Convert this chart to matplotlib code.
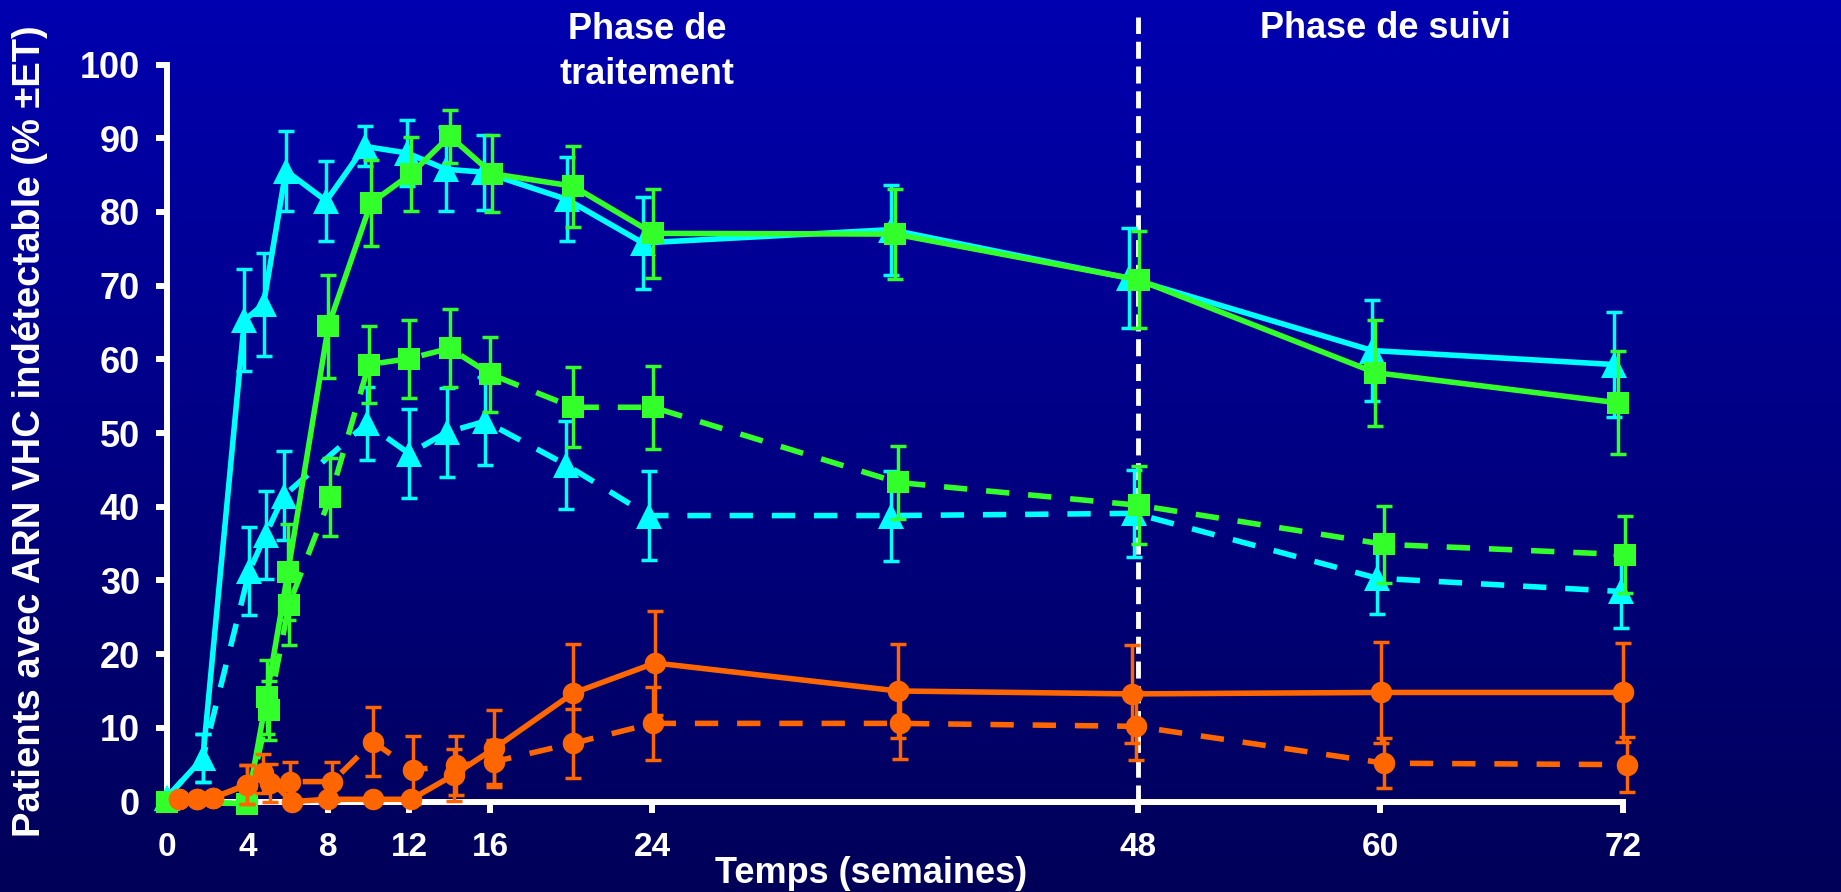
import numpy as np
import matplotlib
matplotlib.use('Agg')
import matplotlib.pyplot as plt

plt.rcParams['font.family'] = ['Liberation Sans', 'DejaVu Sans']
plt.rcParams['font.weight'] = 'bold'

# Data (weeks, % undetectable, +/- SE)
cyan_solid_wk = [0, 1.8, 3.85, 4.8, 5.9, 7.9, 9.8, 11.9, 13.8, 15.7, 19.8, 23.55, 35.8, 47.6, 59.6, 71.55]
cyan_solid_y = [0.5, 5.9, 65.3, 67.5, 85.6, 81.5, 88.9, 88.0, 85.8, 85.4, 81.7, 75.8, 77.6, 71.0, 61.2, 59.3]
cyan_solid_e = [0, 3.2, 6.9, 7.0, 5.4, 5.4, 2.7, 4.5, 5.7, 5.1, 5.7, 6.3, 6.1, 6.8, 6.9, 7.1]

green_solid_wk = [0, 4, 4.95, 6.0, 8.0, 10.1, 12.1, 14.0, 16.1, 20.1, 24.05, 36.0, 48.05, 59.75, 71.75]
green_solid_y = [0, -0.3, 14.2, 31.1, 64.5, 81.2, 85.2, 90.3, 85.2, 83.5, 77.1, 77.0, 70.8, 58.2, 54.1]
green_solid_e = [0, 0, 5.0, 6.5, 7.0, 5.8, 5.0, 3.6, 5.2, 5.5, 6.0, 6.1, 6.6, 7.2, 7.0]

green_dash_wk = [0, 4, 5.05, 6.05, 8.1, 10.0, 12.0, 14.0, 16.0, 20.1, 24.05, 36.15, 48.05, 60.2, 72.1]
green_dash_y = [0, -0.3, 12.4, 26.7, 41.3, 59.3, 60.1, 61.5, 58.0, 53.5, 53.5, 43.3, 40.2, 34.9, 33.5]
green_dash_e = [0, 0, 4.0, 5.5, 5.3, 5.2, 5.3, 5.3, 5.1, 5.4, 5.6, 5.0, 5.3, 5.2, 5.2]

cyan_dash_wk = [0, 1.8, 4.1, 4.9, 5.8, 9.9, 12.0, 13.85, 15.75, 19.75, 23.85, 35.8, 47.85, 59.85, 71.9]
cyan_dash_y = [0.5, 5.9, 31.3, 36.2, 41.5, 51.3, 47.2, 50.1, 51.6, 45.7, 38.8, 38.8, 39.1, 30.3, 28.5]
cyan_dash_e = [0, 3.2, 6.0, 6.0, 6.0, 5.0, 6.0, 6.0, 6.0, 6.0, 6.0, 6.1, 5.9, 4.9, 4.9]

orange_solid_wk = [0.6, 1.5, 2.3, 4.0, 4.75, 6.2, 8.0, 10.2, 12.1, 14.2, 16.2, 20.1, 24.15, 36.15, 47.75, 60.05, 72.0]
orange_solid_y = [0.3, 0.3, 0.5, 2.3, 3.8, 0.0, 0.3, 0.3, 0.3, 3.6, 7.2, 14.7, 18.8, 15.0, 14.6, 14.8, 14.8]
orange_solid_e = [0, 0, 0, 2.7, 2.6, 0, 0, 0, 0, 3.5, 5.2, 6.7, 7.1, 6.4, 6.6, 6.8, 6.7]

orange_dash_wk = [0.6, 1.5, 2.3, 4.0, 5.1, 6.1, 8.2, 10.2, 12.2, 14.3, 16.2, 20.1, 24.05, 36.25, 47.95, 60.2, 72.2]
orange_dash_y = [0.3, 0.3, 0.5, 2.3, 2.5, 2.7, 2.7, 8.1, 4.3, 4.9, 5.4, 7.9, 10.6, 10.6, 10.2, 5.2, 5.0]
orange_dash_e = [0, 0, 0, 2.6, 2.6, 2.7, 2.6, 4.7, 4.6, 4.0, 3.0, 4.7, 5.0, 4.9, 4.6, 3.4, 3.7]

x_ticks = [0, 4, 8, 12, 16, 24, 48, 60, 72]
y_ticks = [0, 10, 20, 30, 40, 50, 60, 70, 80, 90, 100]

CYAN = '#00FFFF'
GREEN = '#33FF2A'
ORANGE = '#FF6600'

fig = plt.figure(figsize=(18.41, 8.92), dpi=100)

# gradient background
bg = fig.add_axes([0, 0, 1, 1], zorder=-10)
grad = np.linspace(0, 1, 256).reshape(-1, 1)
top = np.array([0, 0, 176]) / 255
bottom = np.array([0, 0, 88]) / 255
img = top * (1 - grad[..., None]) + bottom * grad[..., None]
bg.imshow(img, aspect='auto', extent=[0, 1, 0, 1])
bg.axis('off')

ax = fig.add_axes([166.5 / 1841, 1 - 801.5 / 892, (1623 - 166.5) / 1841, (801.5 - 64.6) / 892])
ax.set_facecolor('none')


def series(wk, y, e, color, marker, ms, dashed, z):
    kw = dict(color=color, marker=marker, markersize=ms, markeredgecolor=color,
              lw=4, ecolor=color, elinewidth=2.5, capsize=6, capthick=2.5,
              clip_on=False, zorder=z)
    if dashed:
        kw['dashes'] = (4.2, 3.4)
    cont = ax.errorbar(wk, y, yerr=e, **kw)
    cont.lines[0].set_markeredgewidth(0)
    for cap in cont.lines[1]:
        cap.set_clip_on(False)
        cap.set_zorder(z)
        cap.set_markeredgewidth(2.5)
    for bar in cont.lines[2]:
        bar.set_clip_on(False)
        bar.set_zorder(z)


series(cyan_dash_wk, cyan_dash_y, cyan_dash_e, CYAN, '^', 18.5, True, 3)
series(green_dash_wk, green_dash_y, green_dash_e, GREEN, 's', 16, True, 4)
series(cyan_solid_wk, cyan_solid_y, cyan_solid_e, CYAN, '^', 18.5, False, 5)
series(green_solid_wk, green_solid_y, green_solid_e, GREEN, 's', 16, False, 6)
series(orange_dash_wk, orange_dash_y, orange_dash_e, ORANGE, 'o', 15.5, True, 7)
series(orange_solid_wk, orange_solid_y, orange_solid_e, ORANGE, 'o', 15.5, False, 8)

# end of treatment marker
ax.plot([48, 48], [0, 106.5], color='white', lw=3.5, dashes=(3.5, 1.6),
        clip_on=False, zorder=2)

ax.set_xlim(0, 72)
ax.set_ylim(0, 100)
ax.set_xticks(x_ticks)
ax.set_yticks(y_ticks)
for s in ['top', 'right']:
    ax.spines[s].set_visible(False)
for s in ['left', 'bottom']:
    ax.spines[s].set_color('white')
    ax.spines[s].set_linewidth(4.3)
ax.tick_params(colors='white', width=4.3, length=8)
ax.tick_params(axis='y', pad=11, labelsize=26)
ax.tick_params(axis='x', pad=14, labelsize=24)
for lab in ax.get_xticklabels() + ax.get_yticklabels():
    lab.set_fontweight('bold')

fig.text(871 / 1841, 0.001, 'Temps (semaines)', color='white', fontsize=26,
         fontweight='bold', ha='center', va='bottom')
fig.text(30 / 1841, 1 - 431 / 892, 'Patients avec ARN VHC indétectable (% ±ET)',
         color='white', fontsize=27.5, fontweight='bold', rotation=90,
         ha='center', va='center')
fig.text(647 / 1841, 1 - 52 / 892, 'Phase de\ntraitement', color='white',
         fontsize=26, fontweight='bold', ha='center', va='center', linespacing=1.35)
fig.text(1385 / 1841, 1 - 29 / 892, 'Phase de suivi', color='white',
         fontsize=26, fontweight='bold', ha='center', va='center')

fig.savefig('out.png', dpi=100)
